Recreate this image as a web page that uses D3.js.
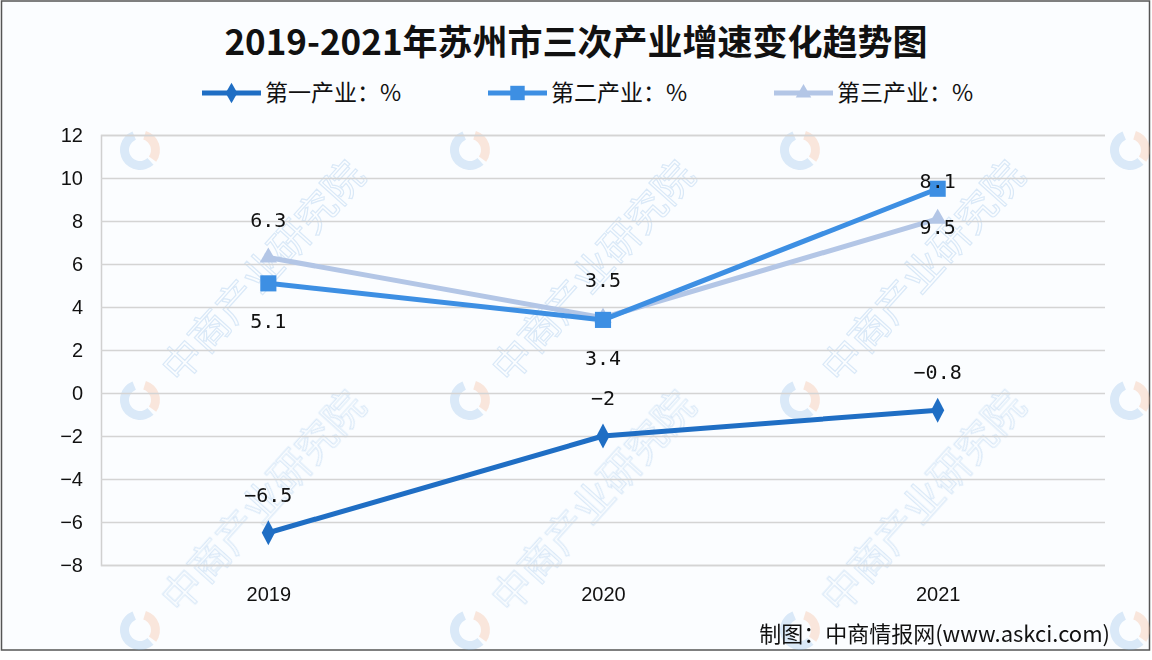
<!DOCTYPE html>
<html>
<head>
<meta charset="utf-8">
<script src="https://cdn.jsdelivr.net/npm/d3@7"></script>
<style>
  body { margin: 0; background: #fff; }
  svg { display: block; }
</style>
</head>
<body>
<svg id="chart" width="1152" height="660"></svg>
<script>
// data
var years = ["2019", "2020", "2021"];
var primary = [-6.5, -2, -0.8];
var secondary = [5.1, 3.4, 9.5];
var tertiary = [6.3, 3.5, 8.1];
var yTicks = [-8, -6, -4, -2, 0, 2, 4, 6, 8, 10, 12];
var seriesNames = ["第一产业：%", "第二产业：%", "第三产业：%"];

var svg = d3.select("#chart");
var W = 1152, H = 660;
var margin = { top: 135, right: 47, bottom: 95, left: 101 },
    width = W - margin.left - margin.right,
    height = H - margin.top - margin.bottom;

// frame + background
svg.append("rect").attr("x", 1.5).attr("y", 1).attr("width", W - 4).attr("height", 649)
    .attr("fill", "#fbfdff").attr("stroke", "#555").attr("stroke-width", 1.5);

// watermarks (logo everywhere, text only where it fits inside)
var wm = svg.append("g").attr("opacity", 0.3);
var arc = d3.arc().innerRadius(11).outerRadius(20);
[140, 470, 800, 1130].forEach(function (wx) {
    [150, 400, 630].forEach(function (wy) {
        var w = wm.append("g").attr("transform", "translate(" + wx + "," + wy + ")");
        w.append("path").attr("d", arc({ startAngle: 0.3, endAngle: 2.2 })).attr("fill", "#f6b28b");
        w.append("path").attr("d", arc({ startAngle: 2.4, endAngle: 5.9 })).attr("fill", "#8dbbe6");
        if (wx < 1000 && wy > 200) {
            w.append("text").attr("transform", "translate(40,-15) rotate(-48)")
                .attr("font-family", "Noto Sans CJK SC").attr("font-size", 40)
                .attr("fill", "none").attr("stroke", "#8dbbe6").attr("stroke-width", 1.2)
                .text("中商产业研究院");
        }
    });
});

var x = d3.scalePoint().domain(years).range([0, width]).padding(0.5);
var y = d3.scaleLinear().domain([-8, 12]).range([height, 0]);

var g = svg.append("g").attr("transform", "translate(" + margin.left + "," + margin.top + ")");

// grid
g.append("g")
    .call(d3.axisLeft(y).tickValues(yTicks).tickSize(-width).tickFormat(function (d) { return d; }))
    .call(function (a) {
        a.select(".domain").attr("stroke", "#d0d0d0").attr("stroke-width", 1.5);
        a.selectAll(".tick line").attr("stroke", "#d4d4d4").attr("stroke-width", 1.5);
        a.selectAll(".tick text").attr("x", -18)
            .attr("font-family", "Liberation Sans, Arial").attr("font-size", 20).attr("fill", "#111")
            .text(function (d) { return d < 0 ? "\u2212" + Math.abs(d) : d; });
    });

g.append("g")
    .attr("transform", "translate(0," + height + ")")
    .call(d3.axisBottom(x).tickSize(0))
    .call(function (a) {
        a.select(".domain").remove();
        a.selectAll(".tick text").attr("y", 22)
            .attr("font-family", "Liberation Sans, Arial").attr("font-size", 20).attr("fill", "#111");
    });

var series = [
    { name: seriesNames[0], values: primary, color: "#1f6ec4", marker: d3.symbolDiamond, size: 150, labelDy: -38 },
    { name: seriesNames[1], values: secondary, color: "#3d8fe3", marker: d3.symbolSquare, size: 260, labelDy: 38 },
    { name: seriesNames[2], values: tertiary, color: "#b3c6e6", marker: d3.symbolTriangle, size: 130, labelDy: -38 }
];

var line = d3.line()
    .x(function (d, i) { return x(years[i]); })
    .y(function (d) { return y(d); });

// draw lighter series first so darker lies on top
[2, 1, 0].forEach(function (k) {
    var s = series[k];
    g.append("path").datum(s.values)
        .attr("d", line).attr("fill", "none")
        .attr("stroke", s.color).attr("stroke-width", 5).attr("stroke-linejoin", "round");
    g.selectAll(null).data(s.values).enter().append("path")
        .attr("d", d3.symbol().type(s.marker).size(s.size))
        .attr("transform", function (d, i) {
            return "translate(" + x(years[i]) + "," + y(d) + ")" + (k === 0 ? " scale(1,1.1)" : "");
        })
        .attr("fill", s.color);
});

series.forEach(function (s) {
    g.selectAll(null).data(s.values).enter().append("text")
        .attr("x", function (d, i) { return x(years[i]); })
        .attr("y", function (d) { return y(d) + s.labelDy; })
        .attr("dy", "0.35em")
        .attr("text-anchor", "middle")
        .attr("font-family", "DejaVu Sans Mono, Liberation Mono, monospace")
        .attr("font-size", 20).attr("fill", "#111")
        .text(function (d) { return d < 0 ? "\u2212" + Math.abs(d) : d; });
});

// title
svg.append("text").attr("x", 576).attr("y", 55).attr("text-anchor", "middle")
    .attr("font-family", "Noto Sans CJK SC").attr("font-weight", "bold")
    .attr("font-size", 35).attr("fill", "#111")
    .text("2019-2021年苏州市三次产业增速变化趋势图");

// legend
var legendX = [202, 488, 774];
series.forEach(function (s, i) {
    var lg = svg.append("g").attr("transform", "translate(" + legendX[i] + ",93)");
    lg.append("line").attr("x1", 0).attr("x2", 59).attr("stroke", s.color).attr("stroke-width", 5);
    lg.append("path").attr("d", d3.symbol().type(s.marker).size(s.size * 0.8))
        .attr("transform", "translate(29.5,0)").attr("fill", s.color);
    lg.append("text").attr("x", 63).attr("dy", "0.35em")
        .attr("font-family", "Noto Sans CJK SC").attr("font-size", 23).attr("fill", "#111")
        .text(s.name);
});

// source
svg.append("text").attr("x", 1110).attr("y", 634).attr("dy", "0.35em").attr("text-anchor", "end")
    .attr("font-family", "Noto Sans CJK SC").attr("font-size", 22).attr("fill", "#111")
    .text("制图：中商情报网(www.askci.com)");
</script>
</body>
</html>
